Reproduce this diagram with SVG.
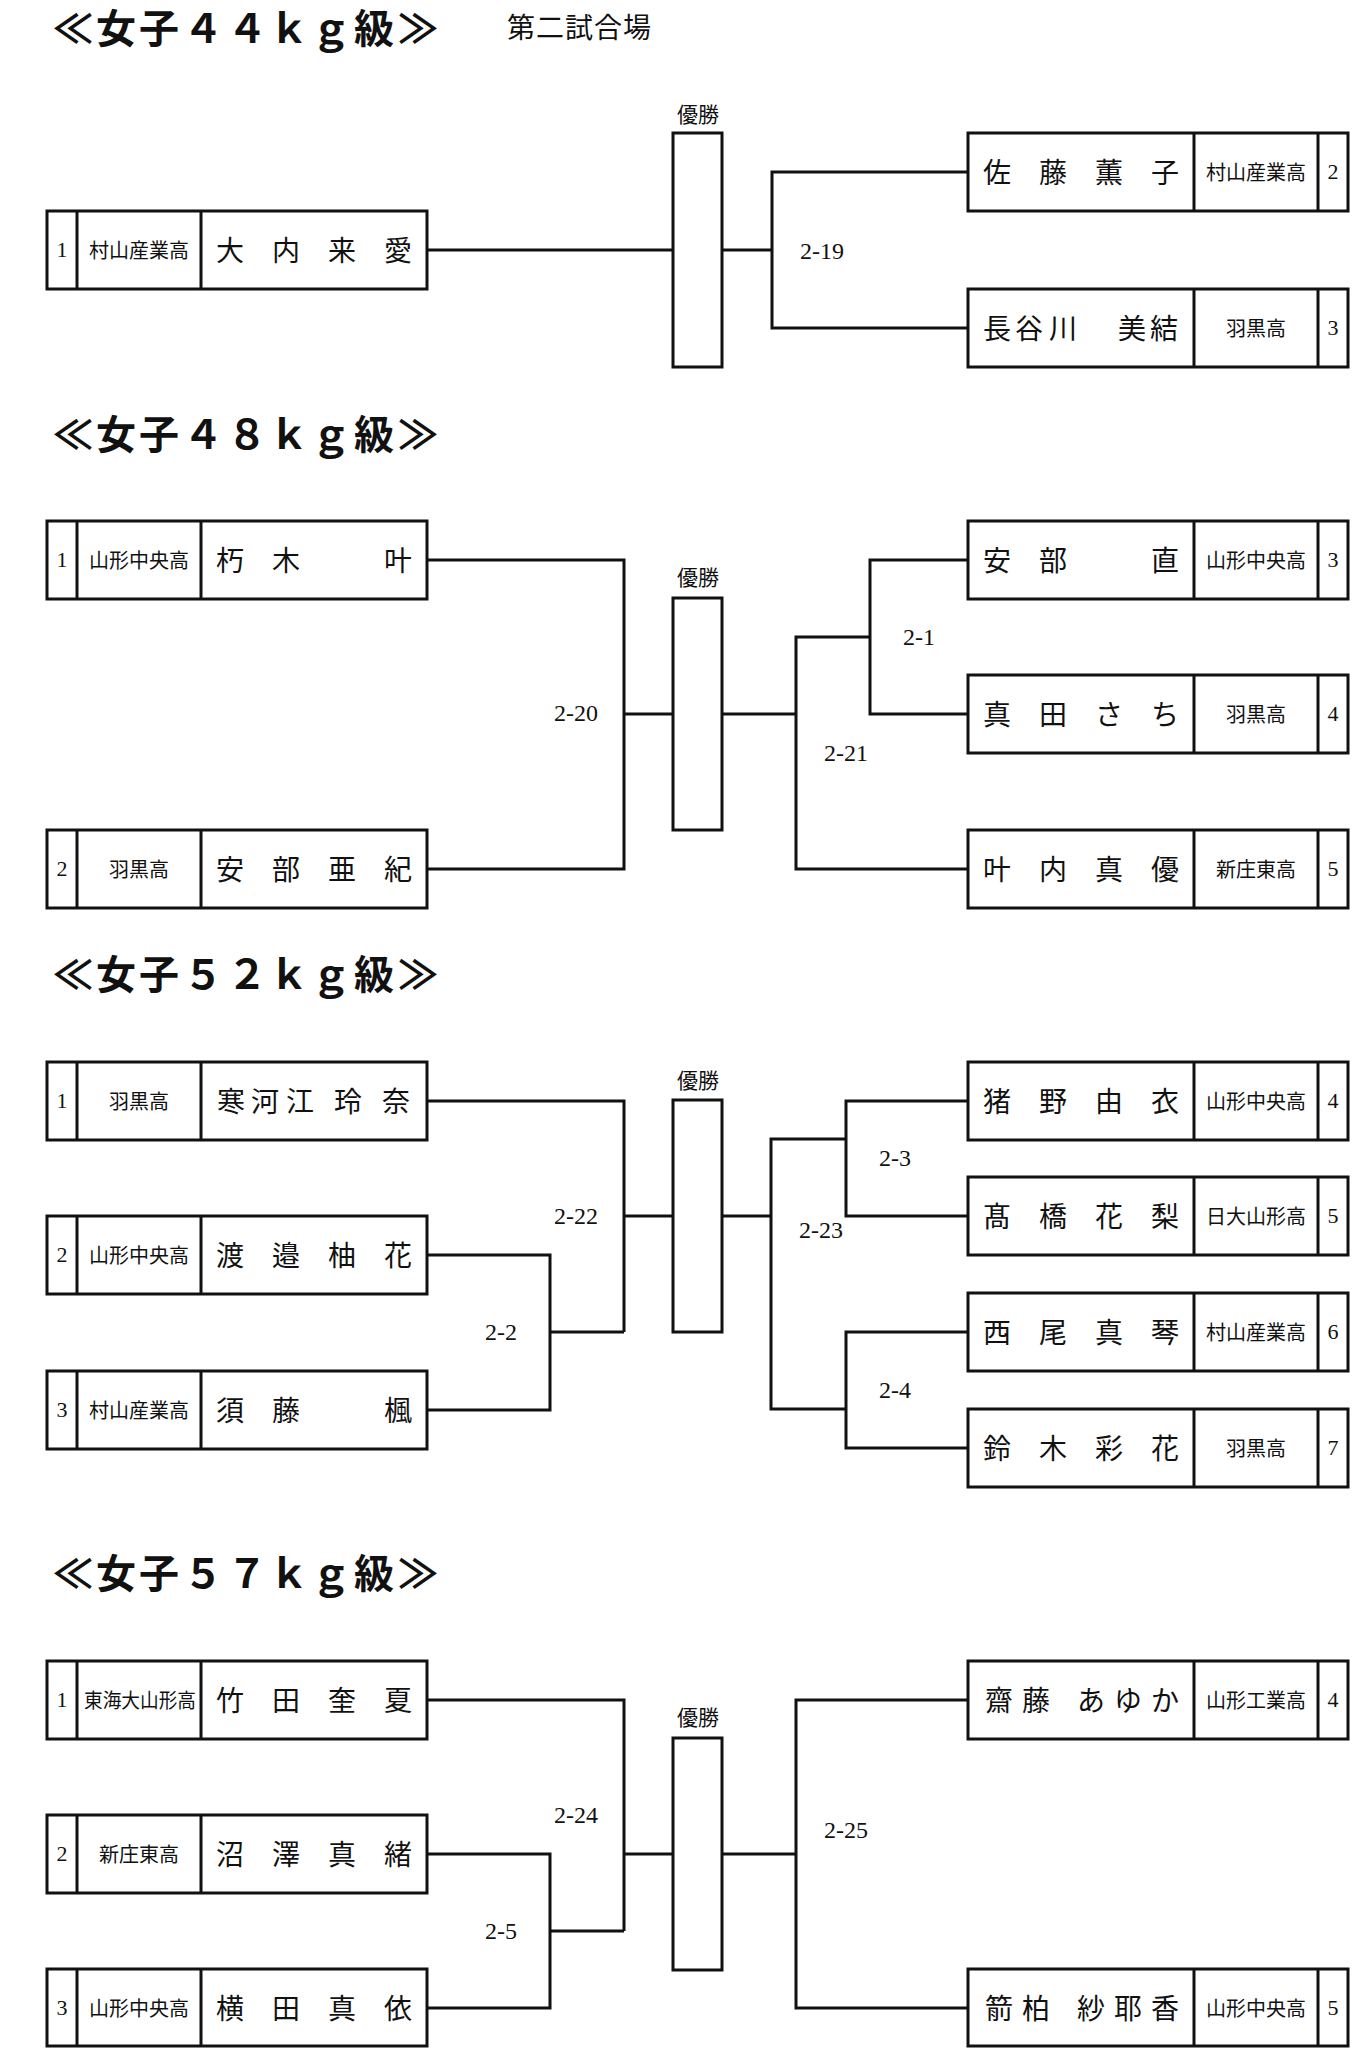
<svg xmlns="http://www.w3.org/2000/svg" width="1358" height="2048" viewBox="0 0 1358 2048">
<style>
.bx{fill:#fff;stroke:#111;stroke-width:3}
.dv{stroke:#111;stroke-width:3}
.cn{fill:none;stroke:#111;stroke-width:3}
text{fill:#111}
.t{font-family:"Noto Sans CJK JP",sans-serif;font-weight:bold;font-size:40px;text-anchor:middle}
.v{font-family:"Noto Sans CJK JP",sans-serif;font-size:28px;text-anchor:middle}
.nm{font-family:"Noto Sans CJK JP",sans-serif;font-size:28px;text-anchor:middle}
.sc{font-family:"Noto Sans CJK JP",sans-serif;font-size:20px;text-anchor:middle}
.no{font-family:"Liberation Serif",serif;font-size:22px;text-anchor:middle}
.lb{font-family:"Liberation Serif",serif;font-size:24px;text-anchor:middle}
.w{font-family:"Noto Sans CJK JP",sans-serif;font-size:21px;text-anchor:middle}
</style>
<rect width="1358" height="2048" fill="#fff"/>

<g id="titles">
<text class="t" x="73 116 159 203 247 289 331 374 418" y="43">≪女子４４ｋｇ級≫</text>
<text class="v" x="521 550 579 608 637" y="38">第二試合場</text>
<text class="t" x="73 116 159 203 247 289 331 374 418" y="449">≪女子４８ｋｇ級≫</text>
<text class="t" x="73 116 159 203 247 289 331 374 418" y="989">≪女子５２ｋｇ級≫</text>
<text class="t" x="73 116 159 203 247 289 331 374 418" y="1588">≪女子５７ｋｇ級≫</text>
</g>

<g id="connectors">
<!-- 44kg -->
<path class="cn" d="M427 250 H673"/>
<path class="cn" d="M722 250 H772"/>
<path class="cn" d="M968 172 H772 V328 H968"/>
<text class="lb" x="822" y="259">2-19</text>
<!-- 48kg -->
<path class="cn" d="M427 560 H624 V869 H427"/>
<path class="cn" d="M624 714 H673"/>
<path class="cn" d="M722 714 H796"/>
<path class="cn" d="M968 560 H870 V714 H968"/>
<path class="cn" d="M870 637 H796 V869 H968"/>
<text class="lb" x="576" y="721">2-20</text>
<text class="lb" x="919" y="645">2-1</text>
<text class="lb" x="846" y="761">2-21</text>
<!-- 52kg -->
<path class="cn" d="M427 1255 H550 V1410 H427"/>
<path class="cn" d="M550 1332 H624"/>
<path class="cn" d="M427 1101 H624 V1332"/>
<path class="cn" d="M624 1216 H673"/>
<path class="cn" d="M722 1216 H771"/>
<path class="cn" d="M846 1139 H771 V1409 H846"/>
<path class="cn" d="M968 1101 H846 V1216 H968"/>
<path class="cn" d="M968 1332 H846 V1448 H968"/>
<text class="lb" x="576" y="1224">2-22</text>
<text class="lb" x="501" y="1340">2-2</text>
<text class="lb" x="895" y="1166">2-3</text>
<text class="lb" x="821" y="1238">2-23</text>
<text class="lb" x="895" y="1398">2-4</text>
<!-- 57kg -->
<path class="cn" d="M427 1854 H550 V2008 H427"/>
<path class="cn" d="M550 1931 H624"/>
<path class="cn" d="M427 1700 H624 V1931"/>
<path class="cn" d="M624 1854 H673"/>
<path class="cn" d="M722 1854 H796"/>
<path class="cn" d="M968 1700 H796 V2008 H968"/>
<text class="lb" x="576" y="1823">2-24</text>
<text class="lb" x="501" y="1939">2-5</text>
<text class="lb" x="846" y="1838">2-25</text>
</g>

<!-- 優勝 boxes -->
<g id="win44"><text class="w" x="698" y="122">優勝</text><rect class="bx" x="673" y="133" width="49" height="234"/></g>
<g id="win48"><text class="w" x="698" y="585">優勝</text><rect class="bx" x="673" y="598" width="49" height="232"/></g>
<g id="win52"><text class="w" x="698" y="1088">優勝</text><rect class="bx" x="673" y="1100" width="49" height="232"/></g>
<g id="win57"><text class="w" x="698" y="1725">優勝</text><rect class="bx" x="673" y="1738" width="49" height="232"/></g>

<!-- 44kg players -->
<g id="p44-1"><rect class="bx" x="47" y="211" width="380" height="78"/><line class="dv" x1="77" y1="211" x2="77" y2="289"/><line class="dv" x1="201" y1="211" x2="201" y2="289"/>
<text class="no" x="62" y="257">1</text><text class="sc" x="139" y="257.5">村山産業高</text><text class="nm" x="230 286 342 398" y="260.5">大内来愛</text></g>
<g id="p44-2"><rect class="bx" x="968" y="133" width="380" height="78"/><line class="dv" x1="1194" y1="133" x2="1194" y2="211"/><line class="dv" x1="1318" y1="133" x2="1318" y2="211"/>
<text class="nm" x="997 1053 1109 1165" y="182.5">佐藤薫子</text><text class="sc" x="1256" y="179.5">村山産業高</text><text class="no" x="1333" y="179">2</text></g>
<g id="p44-3"><rect class="bx" x="968" y="289" width="380" height="78"/><line class="dv" x1="1194" y1="289" x2="1194" y2="367"/><line class="dv" x1="1318" y1="289" x2="1318" y2="367"/>
<text class="nm" x="997 1029 1063 1132 1164" y="338.5">長谷川美結</text><text class="sc" x="1256" y="335.5">羽黒高</text><text class="no" x="1333" y="335">3</text></g>

<!-- 48kg players -->
<g id="p48-1"><rect class="bx" x="47" y="521" width="380" height="78"/><line class="dv" x1="77" y1="521" x2="77" y2="599"/><line class="dv" x1="201" y1="521" x2="201" y2="599"/>
<text class="no" x="62" y="567">1</text><text class="sc" x="139" y="567.5">山形中央高</text><text class="nm" x="230 286 398" y="570.5">朽木叶</text></g>
<g id="p48-2"><rect class="bx" x="47" y="830" width="380" height="78"/><line class="dv" x1="77" y1="830" x2="77" y2="908"/><line class="dv" x1="201" y1="830" x2="201" y2="908"/>
<text class="no" x="62" y="876">2</text><text class="sc" x="139" y="876.5">羽黒高</text><text class="nm" x="230 286 342 398" y="879.5">安部亜紀</text></g>
<g id="p48-3"><rect class="bx" x="968" y="521" width="380" height="78"/><line class="dv" x1="1194" y1="521" x2="1194" y2="599"/><line class="dv" x1="1318" y1="521" x2="1318" y2="599"/>
<text class="nm" x="997 1053 1165" y="570.5">安部直</text><text class="sc" x="1256" y="567.5">山形中央高</text><text class="no" x="1333" y="567">3</text></g>
<g id="p48-4"><rect class="bx" x="968" y="675" width="380" height="78"/><line class="dv" x1="1194" y1="675" x2="1194" y2="753"/><line class="dv" x1="1318" y1="675" x2="1318" y2="753"/>
<text class="nm" x="997 1053 1109 1165" y="724.5">真田さち</text><text class="sc" x="1256" y="721.5">羽黒高</text><text class="no" x="1333" y="721">4</text></g>
<g id="p48-5"><rect class="bx" x="968" y="830" width="380" height="78"/><line class="dv" x1="1194" y1="830" x2="1194" y2="908"/><line class="dv" x1="1318" y1="830" x2="1318" y2="908"/>
<text class="nm" x="997 1053 1109 1165" y="879.5">叶内真優</text><text class="sc" x="1256" y="876.5">新庄東高</text><text class="no" x="1333" y="876">5</text></g>

<!-- 52kg players -->
<g id="p52-1"><rect class="bx" x="47" y="1062" width="380" height="78"/><line class="dv" x1="77" y1="1062" x2="77" y2="1140"/><line class="dv" x1="201" y1="1062" x2="201" y2="1140"/>
<text class="no" x="62" y="1108">1</text><text class="sc" x="139" y="1108.5">羽黒高</text><text class="nm" x="231 265 300 348 396" y="1111.5">寒河江玲奈</text></g>
<g id="p52-2"><rect class="bx" x="47" y="1216" width="380" height="78"/><line class="dv" x1="77" y1="1216" x2="77" y2="1294"/><line class="dv" x1="201" y1="1216" x2="201" y2="1294"/>
<text class="no" x="62" y="1262">2</text><text class="sc" x="139" y="1262.5">山形中央高</text><text class="nm" x="230 286 342 398" y="1265.5">渡邉柚花</text></g>
<g id="p52-3"><rect class="bx" x="47" y="1371" width="380" height="78"/><line class="dv" x1="77" y1="1371" x2="77" y2="1449"/><line class="dv" x1="201" y1="1371" x2="201" y2="1449"/>
<text class="no" x="62" y="1417">3</text><text class="sc" x="139" y="1417.5">村山産業高</text><text class="nm" x="230 286 398" y="1420.5">須藤楓</text></g>
<g id="p52-4"><rect class="bx" x="968" y="1062" width="380" height="78"/><line class="dv" x1="1194" y1="1062" x2="1194" y2="1140"/><line class="dv" x1="1318" y1="1062" x2="1318" y2="1140"/>
<text class="nm" x="997 1053 1109 1165" y="1111.5">猪野由衣</text><text class="sc" x="1256" y="1108.5">山形中央高</text><text class="no" x="1333" y="1108">4</text></g>
<g id="p52-5"><rect class="bx" x="968" y="1177" width="380" height="78"/><line class="dv" x1="1194" y1="1177" x2="1194" y2="1255"/><line class="dv" x1="1318" y1="1177" x2="1318" y2="1255"/>
<text class="nm" x="997 1053 1109 1165" y="1226.5">髙橋花梨</text><text class="sc" x="1256" y="1223.5">日大山形高</text><text class="no" x="1333" y="1223">5</text></g>
<g id="p52-6"><rect class="bx" x="968" y="1293" width="380" height="78"/><line class="dv" x1="1194" y1="1293" x2="1194" y2="1371"/><line class="dv" x1="1318" y1="1293" x2="1318" y2="1371"/>
<text class="nm" x="997 1053 1109 1165" y="1342.5">西尾真琴</text><text class="sc" x="1256" y="1339.5">村山産業高</text><text class="no" x="1333" y="1339">6</text></g>
<g id="p52-7"><rect class="bx" x="968" y="1409" width="380" height="78"/><line class="dv" x1="1194" y1="1409" x2="1194" y2="1487"/><line class="dv" x1="1318" y1="1409" x2="1318" y2="1487"/>
<text class="nm" x="997 1053 1109 1165" y="1458.5">鈴木彩花</text><text class="sc" x="1256" y="1455.5">羽黒高</text><text class="no" x="1333" y="1455">7</text></g>

<!-- 57kg players -->
<g id="p57-1"><rect class="bx" x="47" y="1661" width="380" height="78"/><line class="dv" x1="77" y1="1661" x2="77" y2="1739"/><line class="dv" x1="201" y1="1661" x2="201" y2="1739"/>
<text class="no" x="62" y="1707">1</text><text class="sc" x="84" y="1707.5" style="text-anchor:start" textLength="112" lengthAdjust="spacingAndGlyphs">東海大山形高</text><text class="nm" x="230 286 342 398" y="1710.5">竹田奎夏</text></g>
<g id="p57-2"><rect class="bx" x="47" y="1815" width="380" height="78"/><line class="dv" x1="77" y1="1815" x2="77" y2="1893"/><line class="dv" x1="201" y1="1815" x2="201" y2="1893"/>
<text class="no" x="62" y="1861">2</text><text class="sc" x="139" y="1861.5">新庄東高</text><text class="nm" x="230 286 342 398" y="1864.5">沼澤真緒</text></g>
<g id="p57-3"><rect class="bx" x="47" y="1969" width="380" height="77"/><line class="dv" x1="77" y1="1969" x2="77" y2="2046"/><line class="dv" x1="201" y1="1969" x2="201" y2="2046"/>
<text class="no" x="62" y="2015">3</text><text class="sc" x="139" y="2015.5">山形中央高</text><text class="nm" x="230 286 342 398" y="2018.5">横田真依</text></g>
<g id="p57-4"><rect class="bx" x="968" y="1661" width="380" height="78"/><line class="dv" x1="1194" y1="1661" x2="1194" y2="1739"/><line class="dv" x1="1318" y1="1661" x2="1318" y2="1739"/>
<text class="nm" x="999 1036 1091 1128 1165" y="1710.5">齋藤あゆか</text><text class="sc" x="1256" y="1707.5">山形工業高</text><text class="no" x="1333" y="1707">4</text></g>
<g id="p57-5"><rect class="bx" x="968" y="1969" width="380" height="77"/><line class="dv" x1="1194" y1="1969" x2="1194" y2="2046"/><line class="dv" x1="1318" y1="1969" x2="1318" y2="2046"/>
<text class="nm" x="999 1036 1091 1128 1165" y="2018.5">箭柏紗耶香</text><text class="sc" x="1256" y="2015.5">山形中央高</text><text class="no" x="1333" y="2015">5</text></g>
</svg>
